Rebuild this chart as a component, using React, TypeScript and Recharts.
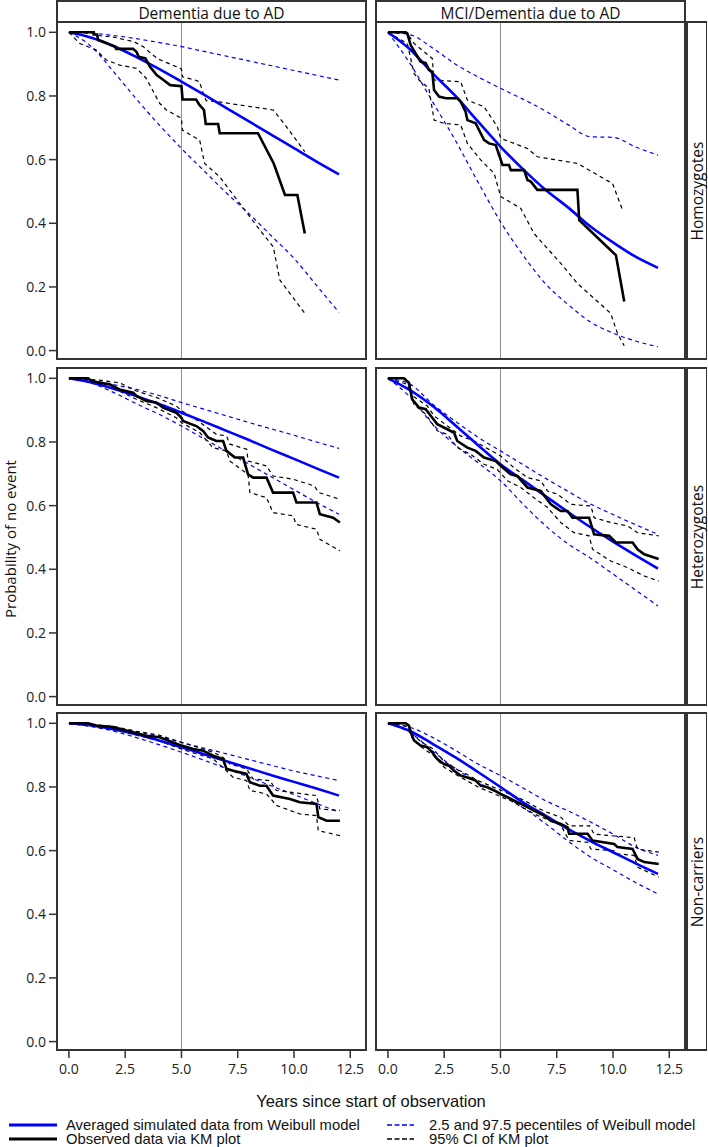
import { LineChart, Line, XAxis, YAxis, ReferenceLine } from "recharts";

type Pt = [number, number];

// Model curves share a yearly grid
const YEARS = [0, 1, 2, 3, 4, 5, 6, 7, 8, 9, 10, 11, 12];
const X_TICKS = [0, 2.5, 5, 7.5, 10, 12.5];
const Y_TICKS = [0, 0.2, 0.4, 0.6, 0.8, 1.0];

const COL_TITLES = ["Dementia due to AD", "MCI/Dementia due to AD"];
const ROW_TITLES = ["Homozygotes", "Heterozygotes", "Non-carriers"];

// Dementia due to AD / Homozygotes
const demHomMean = [1, 0.983, 0.956, 0.922, 0.885, 0.845, 0.804, 0.762, 0.72, 0.678, 0.636, 0.594, 0.554];
const demHomUpper = [1, 0.997, 0.99, 0.98, 0.968, 0.955, 0.94, 0.925, 0.91, 0.895, 0.88, 0.865, 0.85];
const demHomLower = [1, 0.955, 0.875, 0.79, 0.71, 0.635, 0.565, 0.495, 0.43, 0.36, 0.29, 0.205, 0.12];
const demHomKm: Pt[] = [[0, 1], [1.1, 1], [1.1, 0.993], [1.25, 0.993], [1.3, 0.976], [1.6, 0.968], [1.8, 0.962], [2.05, 0.955], [2.1, 0.948], [2.85, 0.948], [3.0, 0.939], [3.1, 0.923], [3.4, 0.918], [3.6, 0.892], [3.9, 0.866], [4.2, 0.85], [4.5, 0.834], [5.0, 0.831], [5.05, 0.789], [5.65, 0.789], [5.8, 0.772], [6.0, 0.756], [6.08, 0.712], [6.63, 0.712], [6.7, 0.683], [8.4, 0.683], [9.1, 0.588], [9.6, 0.489], [10.15, 0.489], [10.48, 0.368]];
const demHomCiUp: Pt[] = [[0, 1], [1.1, 1], [1.3, 0.99], [2.0, 0.985], [2.9, 0.97], [3.3, 0.955], [3.7, 0.93], [4.0, 0.915], [4.5, 0.9], [5.0, 0.885], [5.05, 0.86], [5.6, 0.85], [5.8, 0.845], [6.0, 0.8], [6.1, 0.785], [6.6, 0.782], [9.08, 0.756], [9.67, 0.703], [10.48, 0.625]];
const demHomCiLo: Pt[] = [[0, 1], [0.48, 0.965], [1.22, 0.944], [1.66, 0.913], [2.25, 0.897], [3.0, 0.887], [3.44, 0.855], [4.03, 0.777], [4.33, 0.756], [5.0, 0.73], [5.04, 0.693], [5.81, 0.661], [6.03, 0.588], [6.7, 0.546], [8.48, 0.379], [9.08, 0.326], [9.37, 0.222], [10.48, 0.117]];

// MCI/Dementia due to AD / Homozygotes
const mciHomMean = [1, 0.945, 0.87, 0.8, 0.72, 0.641, 0.57, 0.505, 0.45, 0.39, 0.34, 0.295, 0.26];
const mciHomUpper = [1, 0.992, 0.95, 0.9, 0.86, 0.824, 0.79, 0.753, 0.71, 0.672, 0.67, 0.64, 0.614];
const mciHomLower = [1, 0.9, 0.78, 0.66, 0.53, 0.405, 0.3, 0.21, 0.145, 0.09, 0.055, 0.03, 0.012];
const mciHomKm: Pt[] = [[0, 1], [0.79, 1], [0.86, 0.997], [1.01, 0.96], [1.23, 0.934], [1.45, 0.908], [1.68, 0.903], [1.82, 0.882], [1.97, 0.876], [2.05, 0.819], [2.27, 0.798], [2.57, 0.793], [3.08, 0.793], [3.23, 0.782], [3.45, 0.751], [3.53, 0.724], [3.9, 0.714], [4.12, 0.683], [4.27, 0.662], [4.49, 0.651], [4.79, 0.646], [5.09, 0.583], [5.38, 0.583], [5.46, 0.567], [6.05, 0.567], [6.2, 0.536], [6.35, 0.531], [6.64, 0.505], [8.42, 0.505], [8.5, 0.41], [10.05, 0.305], [10.13, 0.3], [10.5, 0.154]];
const mciHomCiUp: Pt[] = [[0, 1], [0.86, 0.997], [1.16, 0.965], [1.97, 0.918], [2.05, 0.85], [3.23, 0.845], [3.53, 0.787], [4.27, 0.766], [4.86, 0.704], [5.01, 0.667], [6.2, 0.635], [6.64, 0.609], [8.42, 0.588], [9.98, 0.525], [10.42, 0.442]];
const mciHomCiLo: Pt[] = [[0, 1], [0.86, 0.965], [1.16, 0.871], [1.38, 0.85], [1.82, 0.824], [2.05, 0.724], [2.49, 0.714], [3.23, 0.709], [3.53, 0.651], [4.12, 0.599], [4.72, 0.557], [5.01, 0.484], [5.9, 0.447], [6.49, 0.368], [7.68, 0.274], [8.42, 0.211], [9.9, 0.117], [10.2, 0.054], [10.5, 0.015]];

// Dementia due to AD / Heterozygotes
const demHetMean = [1, 0.987, 0.967, 0.944, 0.919, 0.892, 0.864, 0.835, 0.806, 0.776, 0.747, 0.717, 0.688];
const demHetUpper = [1, 0.993, 0.98, 0.965, 0.946, 0.924, 0.903, 0.882, 0.861, 0.841, 0.821, 0.8, 0.78];
const demHetLower = [1, 0.985, 0.955, 0.92, 0.887, 0.85, 0.81, 0.77, 0.73, 0.69, 0.65, 0.61, 0.573];
const demHetKm: Pt[] = [[0, 1], [0.85, 1], [0.99, 0.992], [1.36, 0.986], [1.81, 0.981], [2.25, 0.965], [2.85, 0.955], [3.0, 0.945], [3.44, 0.929], [3.88, 0.924], [4.18, 0.908], [4.77, 0.892], [5.0, 0.876], [5.07, 0.866], [5.66, 0.85], [5.96, 0.835], [6.18, 0.814], [6.55, 0.803], [6.85, 0.803], [7.0, 0.772], [7.37, 0.751], [7.74, 0.751], [7.96, 0.698], [8.19, 0.688], [8.78, 0.688], [9.07, 0.641], [9.96, 0.641], [10.11, 0.61], [11.0, 0.61], [11.15, 0.573], [11.74, 0.562], [12.04, 0.547]];
const demHetCiUp: Pt[] = [[0, 1], [1.36, 0.994], [2.25, 0.986], [3.0, 0.96], [3.88, 0.94], [4.77, 0.913], [5.0, 0.898], [5.66, 0.87], [6.55, 0.824], [7.0, 0.819], [7.15, 0.793], [7.9, 0.777], [7.96, 0.74], [8.78, 0.725], [9.07, 0.693], [9.96, 0.683], [10.9, 0.662], [11.1, 0.641], [12.04, 0.62]];
const demHetCiLo: Pt[] = [[0, 1], [1.07, 0.986], [2.25, 0.96], [3.0, 0.934], [3.88, 0.908], [4.77, 0.876], [5.0, 0.861], [5.82, 0.829], [6.4, 0.782], [7.0, 0.772], [7.15, 0.74], [7.96, 0.698], [8.04, 0.641], [8.78, 0.625], [9.07, 0.578], [9.96, 0.568], [10.1, 0.541], [11.0, 0.526], [11.15, 0.494], [12.04, 0.458]];

// MCI/Dementia due to AD / Heterozygotes
const mciHetMean = [1, 0.962, 0.912, 0.852, 0.79, 0.73, 0.68, 0.63, 0.58, 0.532, 0.487, 0.444, 0.402];
const mciHetUpper = [1, 0.981, 0.918, 0.865, 0.815, 0.772, 0.729, 0.686, 0.645, 0.605, 0.572, 0.54, 0.51];
const mciHetLower = [1, 0.94, 0.855, 0.79, 0.735, 0.678, 0.605, 0.537, 0.48, 0.435, 0.385, 0.335, 0.285];
const mciHetKm: Pt[] = [[0, 1], [0.71, 1], [0.93, 0.986], [1.08, 0.934], [1.38, 0.908], [1.68, 0.903], [1.97, 0.876], [2.19, 0.856], [2.64, 0.84], [2.94, 0.829], [3.08, 0.803], [3.53, 0.782], [3.9, 0.772], [4.27, 0.751], [4.79, 0.74], [5.01, 0.725], [5.46, 0.698], [5.75, 0.693], [6.2, 0.657], [6.79, 0.646], [7.24, 0.604], [7.68, 0.583], [7.98, 0.583], [8.2, 0.562], [8.94, 0.562], [9.16, 0.51], [9.83, 0.505], [10.13, 0.484], [10.87, 0.484], [11.09, 0.463], [11.39, 0.447], [12.03, 0.432]];
const mciHetCiUp: Pt[] = [[0, 1], [0.75, 1], [1.0, 0.976], [1.1, 0.945], [1.75, 0.913], [2.05, 0.882], [3.23, 0.819], [3.83, 0.803], [5.01, 0.756], [5.6, 0.719], [6.2, 0.688], [6.79, 0.678], [7.09, 0.646], [7.53, 0.636], [8.13, 0.604], [9.02, 0.599], [9.16, 0.562], [9.9, 0.547], [10.65, 0.536], [11.09, 0.515], [12.03, 0.505]];
const mciHetCiLo: Pt[] = [[0, 1], [0.86, 0.981], [1.16, 0.918], [1.68, 0.887], [2.19, 0.835], [2.64, 0.824], [3.08, 0.782], [3.68, 0.761], [4.27, 0.73], [4.86, 0.714], [5.31, 0.678], [5.9, 0.657], [6.49, 0.625], [7.09, 0.594], [7.68, 0.547], [8.27, 0.515], [8.94, 0.505], [9.09, 0.463], [9.9, 0.426], [10.65, 0.405], [11.39, 0.379], [12.03, 0.363]];

// Dementia due to AD / Non-carriers
const demNonMean = [1, 0.993, 0.981, 0.966, 0.946, 0.925, 0.903, 0.881, 0.859, 0.837, 0.816, 0.795, 0.773];
const demNonUpper = [1, 0.995, 0.986, 0.974, 0.958, 0.94, 0.922, 0.904, 0.886, 0.868, 0.85, 0.835, 0.82];
const demNonLower = [1, 0.99, 0.975, 0.955, 0.933, 0.909, 0.884, 0.858, 0.831, 0.803, 0.776, 0.748, 0.721];
const demNonKm: Pt[] = [[0, 1], [0.85, 1], [1.22, 0.993], [1.96, 0.988], [2.85, 0.972], [3.44, 0.961], [4.03, 0.956], [4.63, 0.94], [5.0, 0.93], [5.52, 0.919], [5.96, 0.914], [6.41, 0.898], [6.85, 0.888], [7.0, 0.857], [7.3, 0.851], [7.89, 0.841], [8.04, 0.815], [8.48, 0.804], [8.78, 0.804], [9.07, 0.773], [9.82, 0.762], [10.26, 0.752], [11.0, 0.747], [11.08, 0.705], [11.45, 0.694], [12.04, 0.694]];
const demNonCiUp: Pt[] = [[0, 1], [1, 0.996], [2, 0.99], [3, 0.975], [4, 0.963], [5, 0.94], [6.41, 0.909], [6.85, 0.893], [7.15, 0.872], [7.89, 0.857], [8.19, 0.825], [8.93, 0.82], [9.22, 0.789], [11.0, 0.773], [11.15, 0.731], [12.04, 0.726]];
const demNonCiLo: Pt[] = [[0, 1], [1, 0.99], [2, 0.98], [3, 0.963], [4, 0.945], [5, 0.919], [6.41, 0.888], [7.0, 0.851], [7.3, 0.83], [7.89, 0.82], [8.04, 0.789], [8.78, 0.778], [9.22, 0.742], [10.26, 0.715], [11.0, 0.71], [11.08, 0.663], [12.04, 0.647]];

// MCI/Dementia due to AD / Non-carriers
const mciNonMean = [1, 0.975, 0.935, 0.893, 0.847, 0.8, 0.752, 0.71, 0.668, 0.63, 0.595, 0.56, 0.527];
const mciNonUpper = [1, 0.987, 0.955, 0.915, 0.872, 0.836, 0.797, 0.757, 0.725, 0.69, 0.652, 0.611, 0.585];
const mciNonLower = [1, 0.97, 0.912, 0.858, 0.815, 0.778, 0.735, 0.685, 0.63, 0.58, 0.54, 0.5, 0.464];
const mciNonKm: Pt[] = [[0, 1], [0.79, 1], [0.93, 0.993], [1.01, 0.972], [1.16, 0.946], [1.45, 0.93], [1.75, 0.925], [1.97, 0.909], [2.19, 0.888], [2.49, 0.872], [2.71, 0.867], [2.94, 0.851], [3.23, 0.836], [3.53, 0.83], [3.9, 0.82], [4.12, 0.804], [4.42, 0.799], [4.72, 0.789], [5.01, 0.778], [5.31, 0.768], [5.75, 0.752], [6.05, 0.742], [6.49, 0.726], [6.94, 0.71], [7.24, 0.694], [7.68, 0.684], [7.98, 0.673], [8.05, 0.653], [8.87, 0.653], [9.09, 0.632], [10.05, 0.621], [10.2, 0.611], [10.87, 0.605], [11.09, 0.574], [11.39, 0.564], [12.03, 0.558]];
const mciNonCiUp: Pt[] = [[0, 1], [0.79, 1], [0.93, 0.995], [1.1, 0.965], [1.5, 0.94], [2.0, 0.92], [2.5, 0.88], [3.0, 0.858], [3.5, 0.84], [4.0, 0.82], [4.5, 0.805], [5.0, 0.79], [5.5, 0.775], [6.0, 0.76], [6.5, 0.74], [7.0, 0.722], [7.68, 0.705], [8.05, 0.678], [8.96, 0.678], [9.16, 0.652], [10.05, 0.646], [10.94, 0.641], [11.09, 0.605], [12.03, 0.595]];
const mciNonCiLo: Pt[] = [[0, 1], [0.93, 0.99], [1.1, 0.95], [1.5, 0.925], [2.0, 0.9], [2.5, 0.862], [3.0, 0.84], [3.5, 0.82], [4.0, 0.8], [4.5, 0.785], [5.0, 0.77], [5.5, 0.755], [6.0, 0.735], [6.5, 0.715], [7.0, 0.7], [7.68, 0.68], [8.05, 0.632], [8.87, 0.626], [9.02, 0.605], [10.05, 0.6], [10.2, 0.59], [10.94, 0.585], [11.09, 0.548], [12.03, 0.517]];

// layout (px)
const PLOT_W = 309;
const PLOT_H = 337;
const Y_AXIS_W = 57;
const X_AXIS_H = 45;
const COL_LEFT = [57, 376];
const ROW_TOP = [22, 368, 713];
const X_DOMAIN: [number, number] = [-0.53, 13.2];
const Y_DOMAIN: [number, number] = [-0.0264, 1.0324];

const BLUE = "#0000ff";
const FRAME = "#333333";
const TICK_FONT = "'Open Sans', 'Noto Sans', sans-serif";
const LABEL_FONT = "'Open Sans', 'Noto Sans', sans-serif";
const LEGEND_FONT = "'Liberation Sans', Arial, sans-serif";

interface PanelData {
  mean: number[];
  upper: number[];
  lower: number[];
  km: Pt[];
  ciUp: Pt[];
  ciLo: Pt[];
}

const PANELS: PanelData[][] = [
  [
    { mean: demHomMean, upper: demHomUpper, lower: demHomLower, km: demHomKm, ciUp: demHomCiUp, ciLo: demHomCiLo },
    { mean: mciHomMean, upper: mciHomUpper, lower: mciHomLower, km: mciHomKm, ciUp: mciHomCiUp, ciLo: mciHomCiLo },
  ],
  [
    { mean: demHetMean, upper: demHetUpper, lower: demHetLower, km: demHetKm, ciUp: demHetCiUp, ciLo: demHetCiLo },
    { mean: mciHetMean, upper: mciHetUpper, lower: mciHetLower, km: mciHetKm, ciUp: mciHetCiUp, ciLo: mciHetCiLo },
  ],
  [
    { mean: demNonMean, upper: demNonUpper, lower: demNonLower, km: demNonKm, ciUp: demNonCiUp, ciLo: demNonCiLo },
    { mean: mciNonMean, upper: mciNonUpper, lower: mciNonLower, km: mciNonKm, ciUp: mciNonCiUp, ciLo: mciNonCiLo },
  ],
];

const gridRows = (ys: number[]) => YEARS.map((x, i) => ({ x, y: ys[i] }));
const pairRows = (pts: Pt[]) => pts.map(([x, y]) => ({ x, y }));

function Panel({ d, col, row }: { d: PanelData; col: number; row: number }) {
  const showY = col === 0;
  const showX = row === 2;
  const width = PLOT_W + (showY ? Y_AXIS_W : 0);
  const height = PLOT_H + (showX ? X_AXIS_H : 0);
  const left = showY ? COL_LEFT[0] - Y_AXIS_W : COL_LEFT[col];
  const tickStyle = { fontSize: 14, fill: "#222", fontFamily: TICK_FONT };

  return (
    <div style={{ position: "absolute", left, top: ROW_TOP[row], width, height }}>
      <LineChart width={width} height={height} margin={{ top: 0, right: 0, bottom: 0, left: 0 }}>
        <XAxis
          type="number"
          dataKey="x"
          domain={X_DOMAIN}
          allowDataOverflow
          ticks={X_TICKS}
          interval={0}
          hide={!showX}
          height={X_AXIS_H}
          axisLine={false}
          tickSize={8}
          tickMargin={6}
          tickLine={{ stroke: FRAME, strokeWidth: 1.5 }}
          tick={tickStyle}
          tickFormatter={(v: number) => v.toFixed(1)}
        />
        <YAxis
          type="number"
          domain={Y_DOMAIN}
          allowDataOverflow
          ticks={Y_TICKS}
          interval={0}
          hide={!showY}
          width={Y_AXIS_W}
          axisLine={false}
          tickSize={8}
          tickMargin={3}
          tickLine={{ stroke: FRAME, strokeWidth: 1.5 }}
          tick={tickStyle}
          tickFormatter={(v: number) => v.toFixed(1)}
        />
        <ReferenceLine x={5} stroke="#8c8c8c" strokeWidth={1} />
        <Line data={gridRows(d.upper)} dataKey="y" type="monotone" stroke={BLUE} strokeWidth={1.2} strokeDasharray="4 3.5" dot={false} isAnimationActive={false} />
        <Line data={gridRows(d.lower)} dataKey="y" type="monotone" stroke={BLUE} strokeWidth={1.2} strokeDasharray="4 3.5" dot={false} isAnimationActive={false} />
        <Line data={pairRows(d.ciUp)} dataKey="y" type="linear" stroke="#000" strokeWidth={1.2} strokeDasharray="4 3.5" dot={false} isAnimationActive={false} />
        <Line data={pairRows(d.ciLo)} dataKey="y" type="linear" stroke="#000" strokeWidth={1.2} strokeDasharray="4 3.5" dot={false} isAnimationActive={false} />
        <Line data={gridRows(d.mean)} dataKey="y" type="monotone" stroke={BLUE} strokeWidth={2.6} dot={false} isAnimationActive={false} />
        <Line data={pairRows(d.km)} dataKey="y" type="linear" stroke="#000" strokeWidth={2.6} dot={false} isAnimationActive={false} />
      </LineChart>
      <div
        style={{
          position: "absolute",
          left: (showY ? Y_AXIS_W : 0) - 1,
          top: -1,
          width: PLOT_W + 2,
          height: PLOT_H + 2,
          border: `2px solid ${FRAME}`,
          boxSizing: "border-box",
          pointerEvents: "none",
        }}
      />
    </div>
  );
}

function LegendItem({ color, dashed, label, x, y }: { color: string; dashed: boolean; label: string; x: number; y: number }) {
  const sampleW = dashed ? 27 : 48;
  return (
    <div style={{ position: "absolute", left: x, top: y - 7, height: 14, display: "flex", alignItems: "center" }}>
      <svg width={sampleW} height={6} style={{ display: "block" }}>
        <line x1={0} y1={3} x2={sampleW} y2={3} stroke={color} strokeWidth={dashed ? 1.4 : 3} strokeDasharray={dashed ? "5 2.5" : undefined} />
      </svg>
      <span style={{ marginLeft: dashed ? 15 : 9, fontFamily: LEGEND_FONT, fontSize: 14.8, lineHeight: "14px", color: "#111", whiteSpace: "nowrap" }}>{label}</span>
    </div>
  );
}

export default function App() {
  return (
    <div style={{ position: "absolute", left: 0, top: 0, width: 708, height: 1147, background: "#fff", overflow: "hidden" }}>
      {/* column headers */}
      {COL_TITLES.map((t, i) => (
        <div
          key={t}
          style={{
            position: "absolute",
            left: COL_LEFT[i] - 1,
            top: 0,
            width: PLOT_W + 2,
            height: 23,
            border: `2px solid ${FRAME}`,
            borderBottomWidth: 0,
            boxSizing: "border-box",
            display: "flex",
            alignItems: "center",
            justifyContent: "center",
            fontFamily: LABEL_FONT,
            fontSize: 15.5,
            color: "#111",
          }}
        >
          {t}
        </div>
      ))}

      {PANELS.map((r, ri) => r.map((d, ci) => <Panel key={`${ri}-${ci}`} d={d} col={ci} row={ri} />))}

      {/* row strips */}
      {ROW_TITLES.map((t, i) => (
        <div
          key={t}
          style={{
            position: "absolute",
            left: 686,
            top: ROW_TOP[i] - 1,
            width: 21,
            height: PLOT_H + 2,
            border: `2px solid ${FRAME}`,
            borderRightWidth: 1,
            boxSizing: "border-box",
          }}
        >
          <div
            style={{
              position: "absolute",
              left: "50%",
              top: "50%",
              transform: "translate(-50%, -50%) rotate(-90deg)",
              fontFamily: LABEL_FONT,
              fontSize: 15.5,
              color: "#111",
              whiteSpace: "nowrap",
            }}
          >
            {t}
          </div>
        </div>
      ))}

      {/* y title */}
      <div
        style={{
          position: "absolute",
          left: 10,
          top: 539,
          transform: "translate(-50%, -50%) rotate(-90deg)",
          fontFamily: LABEL_FONT,
          fontSize: 15,
          lineHeight: "18px",
          color: "#111",
          whiteSpace: "nowrap",
        }}
      >
        Probability of no event
      </div>

      {/* x title */}
      <div
        style={{
          position: "absolute",
          left: 371,
          top: 1101,
          transform: "translate(-50%, -50%)",
          fontFamily: LEGEND_FONT,
          fontSize: 16.5,
          color: "#111",
          whiteSpace: "nowrap",
        }}
      >
        Years since start of observation
      </div>

      <LegendItem color={BLUE} dashed={false} label="Averaged simulated data from Weibull model" x={9} y={1125} />
      <LegendItem color="#000" dashed={false} label="Observed data via KM plot" x={9} y={1139} />
      <LegendItem color={BLUE} dashed label="2.5 and 97.5 pecentiles of Weibull model" x={387} y={1125} />
      <LegendItem color="#000" dashed label="95% CI of KM plot" x={387} y={1139} />
    </div>
  );
}
